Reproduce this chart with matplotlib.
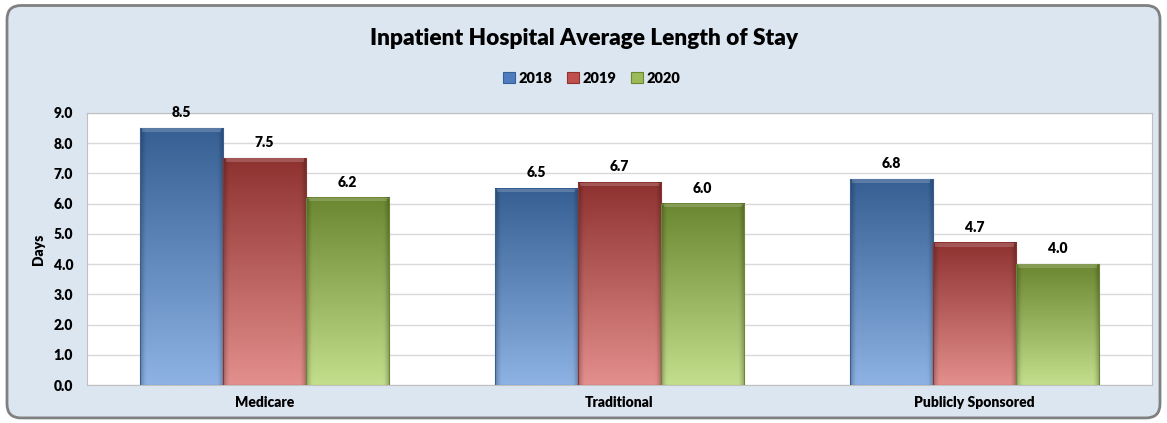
import numpy as np
import matplotlib
matplotlib.use('Agg')
from matplotlib import pyplot as plt
from matplotlib.patches import FancyBboxPatch, Rectangle
from matplotlib.colors import to_rgb

categories = ['Medicare', 'Traditional', 'Publicly Sponsored']
years = ['2018', '2019', '2020']
stay_2018 = [8.5, 6.5, 6.8]
stay_2019 = [7.5, 6.7, 4.7]
stay_2020 = [6.2, 6.0, 4.0]
yticks = np.arange(0, 9.5, 1.0)

# top / bottom colour of each series gradient
top_colors = ['#365f93', '#8e3230', '#6c8731']
bottom_colors = ['#8db2e3', '#e38f8d', '#c3de8c']

W = 'heavy'
plt.rcParams['font.family'] = ['Lato', 'DejaVu Sans']
plt.rcParams['font.weight'] = W

fig = plt.figure(figsize=(11.67, 4.23), dpi=100)
fig.patch.set_facecolor('white')

# rounded chart frame, kept behind the axes
frame = FancyBboxPatch((0.006, 0.012), 0.988, 0.975, boxstyle='round,pad=0,rounding_size=0.012',
                       transform=fig.transFigure, facecolor='#dce6f1', edgecolor='#808080',
                       linewidth=2, mutation_aspect=1167 / 423, zorder=-5)
fig.patches.append(frame)

ax = fig.add_axes([0.0746, 0.0898, 0.9125, 0.6431])
ax.set_facecolor('white')


def gradient_bar(ax, x, w, h, c_top, c_bot):
    ny, nx = 100, 40
    t = np.linspace(0, 1, ny)[:, None]  # 0 at bottom, 1 at top
    top = np.array(to_rgb(c_top))
    bot = np.array(to_rgb(c_bot))
    img = bot[None, None, :] * (1 - t[..., None]) + top[None, None, :] * t[..., None]
    img = np.repeat(img, nx, axis=1)
    # bevel: darken the side edges
    u = np.linspace(0, 1, nx)
    side = np.clip(np.minimum(u, 1 - u) / 0.06, 0, 1)
    shade = 0.78 + 0.22 * side
    img = img * shade[None, :, None]
    img = np.clip(img, 0, 1)
    ax.imshow(img, extent=[x, x + w, 0, h], origin='lower', aspect='auto', zorder=3,
              interpolation='bilinear')
    ax.add_patch(Rectangle((x, 0), w, h, fill=False, edgecolor=c_top, linewidth=0.8, zorder=4))
    ax.add_patch(Rectangle((x + w * 0.03, h - 0.12), w * 0.94, 0.12, facecolor='white',
                           alpha=0.18, edgecolor='none', zorder=4))


series = [stay_2018, stay_2019, stay_2020]
bar_w = 0.234
xs = np.arange(len(categories))
for i, vals in enumerate(series):
    for j, v in enumerate(vals):
        x0 = xs[j] + (i - 1.5) * bar_w
        gradient_bar(ax, x0, bar_w, v, top_colors[i], bottom_colors[i])
        ax.text(x0 + bar_w / 2, v + 0.3, f'{v:.1f}', ha='center', va='bottom',
                fontsize=10, fontweight=W, color='black', zorder=5)

ax.set_xlim(-0.5, 2.5)
ax.set_ylim(0, 9)
ax.set_yticks(yticks)
ax.set_yticklabels([f'{t:.1f}' for t in yticks], fontsize=10, fontweight=W)
ax.set_xticks(xs)
ax.set_xticklabels(categories, fontsize=10, fontweight=W)
ax.tick_params(length=0, pad=10)
ax.tick_params(axis='x', pad=8)
ax.yaxis.grid(True, color='#d9d9d9', linewidth=1)
ax.set_axisbelow(True)
for s in ax.spines.values():
    s.set_color('#c0c0c0')
    s.set_linewidth(0.8)
ax.set_ylabel('Days', fontsize=10, fontweight=W, labelpad=6)

fig.text(0.5, 0.91, 'Inpatient Hospital Average Length of Stay', ha='center', va='center',
         fontsize=16.3, fontweight=W)

handles = [Rectangle((0, 0), 1, 1, facecolor=c, edgecolor=e, linewidth=0.8)
           for c, e in zip(['#4f7cbf', '#c0504d', '#9bbb59'], top_colors)]
fig.legend(handles, years, loc='center', bbox_to_anchor=(0.507, 0.815), ncol=3, frameon=False,
           handlelength=0.8, handleheight=0.8, handletextpad=0.25,
           columnspacing=1.0, prop={'weight': W, 'size': 10.5})

fig.savefig('out.png', dpi=100)
